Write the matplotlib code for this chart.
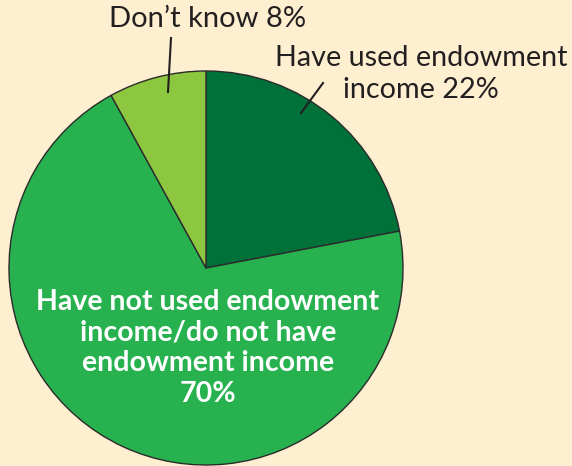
import matplotlib.pyplot as plt

# Data
labels = ["Have used endowment\nincome 22%",
          "Have not used endowment\nincome/do not have\nendowment income\n70%",
          "Don\u2019t know 8%"]
values = [22, 70, 8]
colors = ["#007139", "#27B24F", "#8DC63F"]
bg = "#FDEFD0"

plt.rcParams['font.family'] = ['Lato', 'DejaVu Sans']

fig = plt.figure(figsize=(5.72, 4.66), dpi=100, facecolor=bg)
ax = fig.add_axes([0, 0, 1, 1])
ax.set_facecolor(bg)

# pie drawn in flipped axes: counterclock=True appears clockwise on screen
ax.pie(values, colors=colors, startangle=-90, counterclock=True,
       center=(206, 268), radius=197, frame=True,
       wedgeprops=dict(edgecolor="#2b2b2b", linewidth=1.0))
ax.set_xlim(0, 572)
ax.set_ylim(466, 0)
ax.axis("off")

# outside labels
ax.text(208, 19, labels[2], ha="center", va="center", fontsize=21, color="#231f20")
ax.text(421, 74, labels[0], ha="center", va="center", fontsize=20.7, color="#231f20",
        linespacing=1.25)
ax.plot([171, 168], [38, 92], color="#231f20", lw=1.5)
ax.plot([323, 301], [83, 113], color="#231f20", lw=1.5)

# inside label
ax.text(208, 348, labels[1], ha="center", va="center", fontsize=20.5,
        fontweight="bold", color="white", linespacing=1.22)

fig.savefig("out.png", dpi=100, facecolor=bg)
